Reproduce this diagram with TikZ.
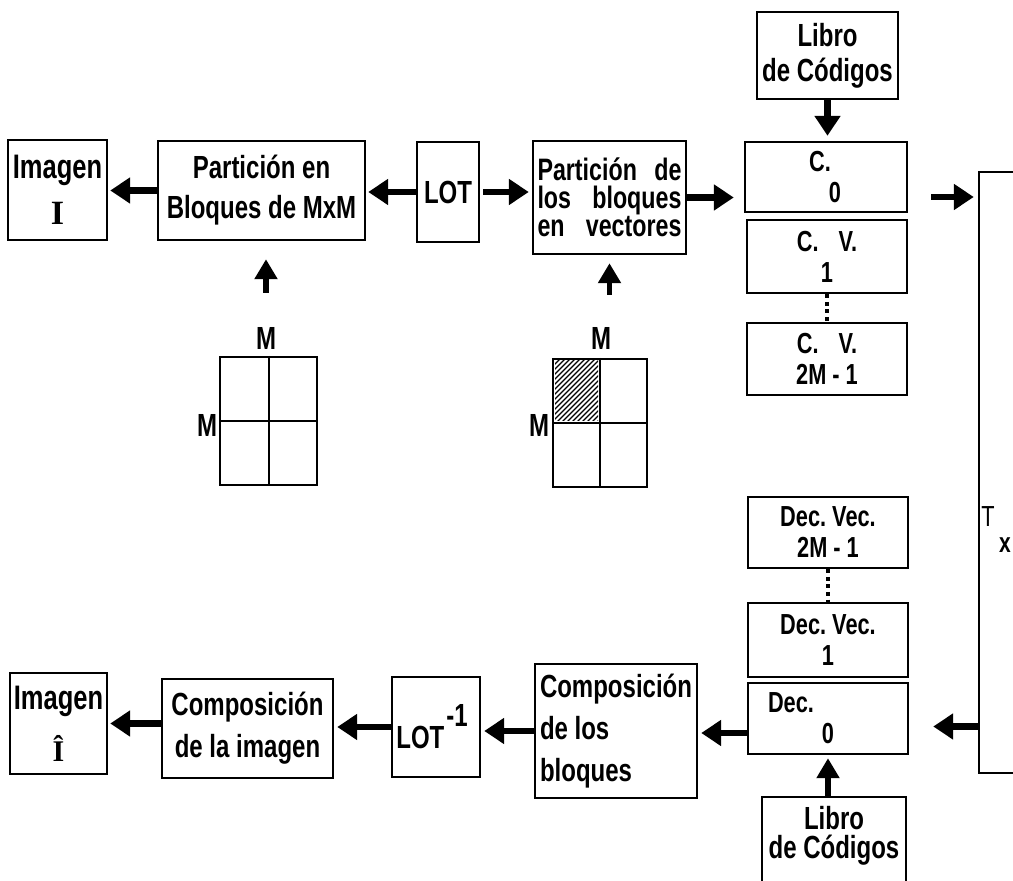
\documentclass[tikz,border=0pt]{standalone}
\usepackage{fontspec}
\setmainfont{Liberation Sans}[FakeStretch=0.75]
\newfontfamily\slabI{Liberation Serif}
\usetikzlibrary{arrows.meta,calc}
% text sizes used in the boxes
\newcommand\txtImg{\fontsize{17}{23}\selectfont\bfseries}
\newcommand\txtA{\fontsize{16}{20}\selectfont\bfseries}
\newcommand\txtB{\fontsize{15.5}{14}\selectfont\bfseries}
\newcommand\txtC{\fontsize{16}{17.5}\selectfont\bfseries}
\newcommand\txtD{\fontsize{14.5}{15.5}\selectfont\bfseries}
\newcommand\txtE{\fontsize{16}{21}\selectfont\bfseries}
\begin{document}
\begin{tikzpicture}[x=0.5pt,y=-0.5pt,
  box/.style={draw,line width=1.2pt,inner sep=0pt,align=center},
  arr/.style={line width=3.4pt,-{Triangle[length=10pt,width=12.5pt]}},
  upar/.style={line width=2.6pt,-{Triangle[length=10pt,width=11pt]}},
  dots/.style={line width=1.6pt,dash pattern=on 2pt off 1.8pt},
  lbl/.style={inner sep=0pt,align=center},
  gridbox/.style={draw,line width=1pt,inner sep=0pt}]
\useasboundingbox (0,0) rectangle (1013,881);

% ---------- coder chain (top row) ----------
\node[box,minimum width=49.5pt,minimum height=50pt,font=\txtImg] (imgI) at (57.5,190)
  {Imagen\\{\slabI\bfseries I}};
\node[box,minimum width=103.5pt,minimum height=49.5pt,font=\txtA] (partMxM) at (261.5,190.5)
  {Partición en\\Bloques de MxM};
\node[box,minimum width=31pt,minimum height=50pt,font=\txtA] (lot) at (448,192) {LOT};
\node[box,minimum width=76.5pt,minimum height=56.5pt,font=\txtB,align=left] (partVec) at (609.5,197.5)
  {\makebox[72pt][s]{Partición de}\\\makebox[72pt][s]{los bloques}\\\makebox[72pt][s]{en vectores}};

% codebook and vector coders
\node[box,minimum width=70.5pt,minimum height=43.5pt,font=\txtC] (libroTop) at (827.5,55.5)
  {Libro\\de Códigos};
\node[box,minimum width=81pt,minimum height=35pt,font=\txtD] (c0) at (826,177)
  {C.\hspace*{6pt}\mbox{}\\\hspace*{9pt}0};
\node[box,minimum width=80pt,minimum height=36.5pt,font=\txtD] (cv1) at (827,256.5)
  {C.\hspace*{10pt}V.\\1};
\node[box,minimum width=80pt,minimum height=36pt,font=\txtD] (cv2) at (827,359)
  {C.\hspace*{10pt}V.\\2M - 1};

% channel
\node[draw,line width=1.2pt,inner sep=0pt,minimum width=60.5pt,minimum height=300.5pt] (ch) at (1039.5,472.5) {};
\node[lbl,font=\fontsize{14.5}{15}\selectfont] (tLbl) at (988,517) {T};
\node[lbl,font=\fontsize{14}{14}\selectfont\bfseries] (xLbl) at (1005,545) {x};

% ---------- decoder chain (bottom row) ----------
\node[box,minimum width=80pt,minimum height=35.5pt,font=\txtD] (dv2) at (828,532.5)
  {Dec.\ Vec.\\2M - 1};
\node[box,minimum width=80pt,minimum height=37pt,font=\txtD] (dv1) at (828,640)
  {Dec.\ Vec.\\1};
\node[box,minimum width=80pt,minimum height=35.5pt,font=\txtD] (d0) at (828,718.5)
  {Dec.\hspace*{37pt}\mbox{}\\0};
\node[box,minimum width=72pt,minimum height=101.5pt] (libroBot) at (834,898.5) {};
\node[lbl,font=\txtC] (libroBotTxt) at (834,836) {Libro\\[-3pt]de Códigos};

\node[box,minimum width=81pt,minimum height=67pt,font=\txtE,align=left] (compBl) at (616,731)
  {Composición\\de los\\bloques};
\node[box,minimum width=44pt,minimum height=50pt,font=\txtA] (lotInv) at (436,727)
  {LOT\hspace*{1pt}\raisebox{11pt}{-1}\hspace*{4pt}\mbox{}};
\node[box,minimum width=85.5pt,minimum height=49.5pt,font=\txtE] (compImg) at (247.5,728.5)
  {Composición\\de la imagen};
\node[box,minimum width=48.5pt,minimum height=50.5pt,font=\txtImg] (imgHat) at (58.5,723.5)
  {Imagen\\[3pt]{\slabI\bfseries\fontsize{15}{15}\selectfont Î}};

% ---------- block grids ----------
\node[gridbox,minimum width=48.5pt,minimum height=64pt] (g1) at (268.5,421) {};
\draw[line width=1pt] (g1.north) -- (g1.south) (g1.west) -- (g1.east);
\node[lbl,font=\txtA] (mTop1) at (266,338) {M};
\node[lbl,font=\txtA] (mSide1) at (207,425) {M};

\node[gridbox,minimum width=47pt,minimum height=64pt] (g2) at (600,423) {};
\begin{scope}
  \clip ($(g2.north west)+(3,3)$) rectangle ($(g2.center)+(-2,-2)$);
  \foreach \k in {-70,-65,...,50}
    \draw[line width=0.7pt] ($(g2.north west)+(\k,64)$) -- ++(64,-64);
\end{scope}
\draw[line width=1pt] (g2.north) -- (g2.south) (g2.west) -- (g2.east);
\node[lbl,font=\txtA] (mTop2) at (601,338) {M};
\node[lbl,font=\txtA] (mSide2) at (539,425) {M};

% ---------- connectors ----------
\draw[arr,shorten >=1pt] (partMxM.west) -- (partMxM.west -| imgI.east);
\draw[arr,shorten >=1pt] (lot.west) -- (lot.west -| partMxM.east);
\draw[arr,shorten <=1.5pt,shorten >=1.5pt] (lot.east) -- (lot.east -| partVec.west);
\draw[arr,shorten >=5pt] (partVec.east) -- (partVec.east -| c0.west);
\draw[arr,shorten >=2.5pt] (libroTop.south) -- (libroTop.south |- c0.north);
\draw[arr,shorten <=11.5pt,shorten >=2pt] ($(c0.east)+(0,20)$) -- ($(ch.west |- c0.east)+(0,20)$);
\draw[dots] (cv1.south) -- (cv2.north);
\draw[upar,shorten <=17pt,shorten >=9pt] (mTop1.north) -- (mTop1.north |- partMxM.south);
\draw[upar,shorten <=16pt,shorten >=4pt] (partVec.south |- mTop2.north) -- (partVec.south);

\draw[arr,shorten >=12pt] ($(ch.west |- d0.east)+(0,8)$) -- ($(d0.east)+(0,8)$);
\draw[dots] (dv2.south) -- (dv1.north);
\draw[upar,shorten >=1.5pt] (libroBot.north -| d0.south) -- (d0.south);
\draw[arr,shorten >=1.5pt] ($(d0.west)+(0,14.5)$) -- ($(compBl.east |- d0.west)+(0,14.5)$);
\draw[arr,shorten >=1.5pt] (compBl.west) -- (compBl.west -| lotInv.east);
\draw[arr,shorten >=1.5pt] (lotInv.west) -- (lotInv.west -| compImg.east);
\draw[arr,shorten >=1pt] (compImg.west |- imgHat.east) -- (imgHat.east);
\end{tikzpicture}
\end{document}
